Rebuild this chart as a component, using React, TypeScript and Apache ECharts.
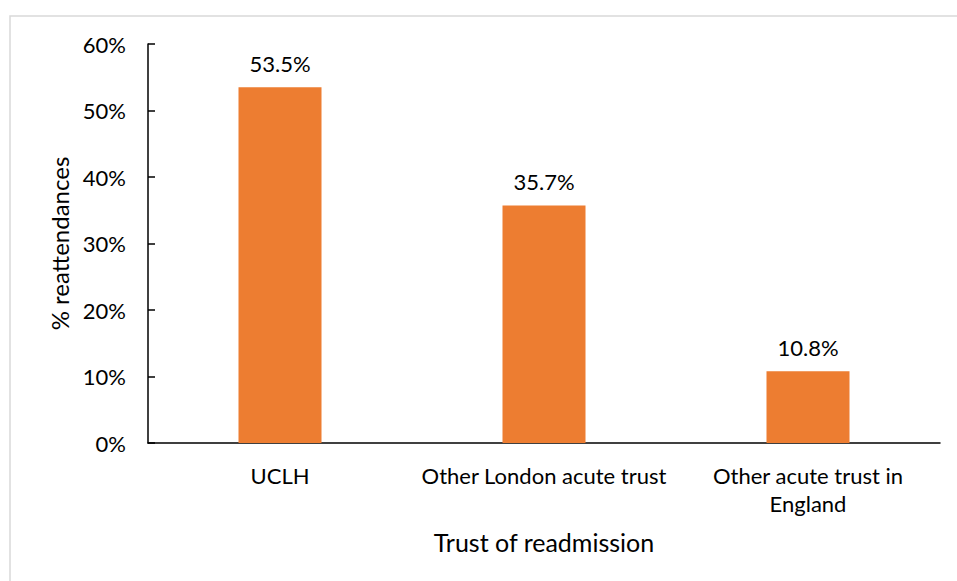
import React, { useEffect, useRef } from "react";
import * as echarts from "echarts";

const categories = ["UCLH", "Other London acute trust", "Other acute trust in\nEngland"];
const values = [53.5, 35.7, 10.8];
const yTicks = [0, 10, 20, 30, 40, 50, 60];

const FONT = "Lato";

export default function App() {
  const ref = useRef<HTMLDivElement>(null);
  useEffect(() => {
    const chart = echarts.init(ref.current!, null, { renderer: "svg" });
    chart.setOption({
      animation: false,
      backgroundColor: "#ffffff",
      textStyle: { fontFamily: FONT },
      graphic: [
        {
          type: "rect",
          shape: { x: 10, y: 16, width: 1000, height: 1000 },
          style: { fill: "none", stroke: "#d9d9d9", lineWidth: 1.5 },
          silent: true,
        },
      ],
      grid: { left: 148, right: 17, top: 44, bottom: 138 },
      xAxis: {
        type: "category",
        data: categories,
        name: "Trust of readmission",
        nameLocation: "middle",
        nameGap: 86,
        nameTextStyle: { fontFamily: FONT, fontSize: 25, color: "#000" },
        axisLine: { lineStyle: { color: "#000", width: 1.5 } },
        axisTick: { show: false },
        axisLabel: { interval: 0, fontFamily: FONT, fontSize: 22, color: "#000", margin: 18, lineHeight: 28 },
      },
      yAxis: {
        type: "value",
        min: yTicks[0],
        max: yTicks[yTicks.length - 1],
        interval: 10,
        name: "% reattendances",
        nameLocation: "middle",
        nameGap: 74,
        nameTextStyle: { fontFamily: FONT, fontSize: 24, color: "#000" },
        axisLine: { show: true, lineStyle: { color: "#000", width: 1.5 } },
        axisTick: { show: true, inside: true, length: 7, lineStyle: { color: "#000", width: 1.5 } },
        splitLine: { show: false },
        axisLabel: { fontFamily: FONT, fontSize: 22, color: "#000", margin: 22, formatter: (v: number) => v + "%" },
      },
      series: [
        {
          type: "bar",
          data: values,
          barWidth: 83,
          itemStyle: { color: "#ED7D31" },
          label: {
            show: true,
            position: "top",
            distance: 13,
            fontFamily: FONT,
            fontSize: 22,
            color: "#000",
            formatter: (p: any) => p.value.toFixed(1) + "%",
          },
        },
      ],
    });
    return () => chart.dispose();
  }, []);
  return <div ref={ref} style={{ position: "fixed", left: 0, top: 0, width: 957, height: 581 }} />;
}
